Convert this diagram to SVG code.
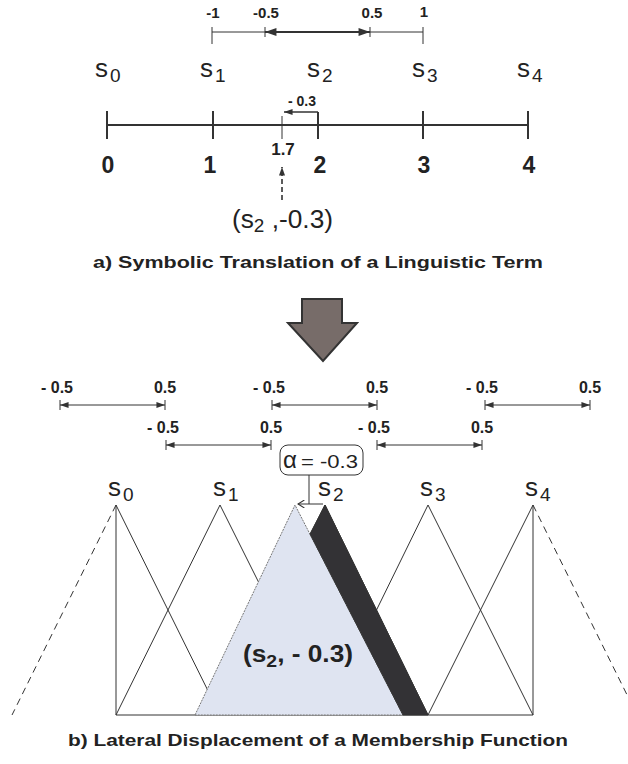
<svg xmlns="http://www.w3.org/2000/svg" width="628" height="764" viewBox="0 0 628 764">
<style>
text{font-family:"Liberation Sans",Arial,sans-serif;fill:#222}
.b{font-weight:bold}
.ln{stroke:#333;stroke-width:1;fill:none}
.ax{stroke:#333;stroke-width:2;fill:none}
.sm{font-size:15px;font-weight:bold}
.rl{font-size:16px;font-weight:bold}
.s{font-size:26px}
.sub{font-size:19px}
.num{font-size:23px;font-weight:bold}
</style>
<defs>
<marker id="ah" viewBox="0 0 10 7" refX="10" refY="3.5" markerWidth="11" markerHeight="6" markerUnits="userSpaceOnUse" orient="auto-start-reverse"><path d="M0,0 L10,3.5 L0,7 z" fill="#333"/></marker>
<marker id="ahb" viewBox="0 0 10 7" refX="10" refY="3.5" markerWidth="13" markerHeight="8" markerUnits="userSpaceOnUse" orient="auto-start-reverse"><path d="M0,0 L10,3.5 L0,7 z" fill="#333"/></marker>
<marker id="aho" viewBox="0 0 10 10" refX="9" refY="5" markerWidth="8" markerHeight="8" markerUnits="userSpaceOnUse" orient="auto"><path d="M1,0 L9,5 L1,10" fill="none" stroke="#333" stroke-width="1.3"/></marker>
</defs>

<!-- Part a -->
<g id="top-bracket">
<path class="ln" stroke="#555" d="M212,32 H265 M370,32 H423 M212,27 V44 M423,27 V44 M265,27 V37 M370,27 V37"/>
<line x1="265" y1="32" x2="370" y2="32" stroke="#333" stroke-width="2.2" marker-start="url(#ahb)" marker-end="url(#ahb)"/>
<text class="sm" x="213" y="18" text-anchor="middle">-1</text>
<text class="sm" x="266" y="18" text-anchor="middle">-0.5</text>
<text class="sm" x="372" y="18" text-anchor="middle">0.5</text>
<text class="sm" x="424" y="17" text-anchor="middle">1</text>
</g>

<g id="top-labels">
<text class="s" x="95" y="77">s<tspan class="sub" dx="2" dy="5">0</tspan></text>
<text class="s" x="200" y="77">s<tspan class="sub" dx="2" dy="5">1</tspan></text>
<text class="s" x="307" y="77">s<tspan class="sub" dx="2" dy="5">2</tspan></text>
<text class="s" x="412" y="77">s<tspan class="sub" dx="2" dy="5">3</tspan></text>
<text class="s" x="517" y="77">s<tspan class="sub" dx="2" dy="5">4</tspan></text>
</g>

<g id="axis">
<path class="ax" d="M107,125 H528 M107,111 V139 M213,111 V139 M423,111 V139 M528,111 V139 M318,112 V139"/>
<path class="ln" stroke-width="1.6" d="M282,116 V139"/>
<line x1="318" y1="112" x2="284" y2="112" stroke="#333" stroke-width="1.6" marker-end="url(#ah)"/>
<text class="b" x="302" y="106" text-anchor="middle" style="font-size:14px">- 0.3</text>
<text class="num" x="108" y="173" text-anchor="middle">0</text>
<text class="num" x="210" y="173" text-anchor="middle">1</text>
<text class="num" x="320" y="173" text-anchor="middle">2</text>
<text class="num" x="424" y="173" text-anchor="middle">3</text>
<text class="num" x="529" y="173" text-anchor="middle">4</text>
<text class="b" x="283" y="155" text-anchor="middle" style="font-size:17px">1.7</text>
<line x1="282" y1="200" x2="282" y2="167" stroke="#333" stroke-width="1.6" stroke-dasharray="5,3" marker-end="url(#ah)"/>
<text x="232" y="228" style="font-size:25px" textLength="101" lengthAdjust="spacingAndGlyphs">(s<tspan style="font-size:18px" dy="4">2</tspan><tspan dy="-4"> ,-0.3)</tspan></text>
</g>

<text class="b" x="318" y="268" text-anchor="middle" style="font-size:17px" textLength="450" lengthAdjust="spacingAndGlyphs">a) Symbolic Translation of a Linguistic Term</text>

<g id="big-arrow">
<path d="M302,299 H342 V323 H357 L323,361 L288,323 H302 Z" fill="#776c69" stroke="#333" stroke-width="2" stroke-linejoin="miter"/>
</g>

<!-- Part b ranges -->
<g id="ranges">
<g class="ln">
<path d="M60,400 V410 M165,400 V410 M272,400 V410 M377,400 V410 M485,400 V410 M590,400 V410 M166,440 V450 M271,440 V450 M377,440 V450 M482,440 V450"/>
</g>
<line x1="60" y1="405" x2="165" y2="405" class="ln" marker-start="url(#ah)" marker-end="url(#ah)"/>
<line x1="272" y1="405" x2="377" y2="405" class="ln" marker-start="url(#ah)" marker-end="url(#ah)"/>
<line x1="485" y1="405" x2="590" y2="405" class="ln" marker-start="url(#ah)" marker-end="url(#ah)"/>
<line x1="166" y1="445" x2="271" y2="445" class="ln" marker-start="url(#ah)" marker-end="url(#ah)"/>
<line x1="377" y1="445" x2="482" y2="445" class="ln" marker-start="url(#ah)" marker-end="url(#ah)"/>
<text class="rl" x="57" y="393" text-anchor="middle">- 0.5</text>
<text class="rl" x="165" y="393" text-anchor="middle">0.5</text>
<text class="rl" x="269" y="393" text-anchor="middle">- 0.5</text>
<text class="rl" x="377" y="393" text-anchor="middle">0.5</text>
<text class="rl" x="482" y="393" text-anchor="middle">- 0.5</text>
<text class="rl" x="590" y="393" text-anchor="middle">0.5</text>
<text class="rl" x="163" y="433" text-anchor="middle">- 0.5</text>
<text class="rl" x="271" y="433" text-anchor="middle">0.5</text>
<text class="rl" x="374" y="433" text-anchor="middle">- 0.5</text>
<text class="rl" x="482" y="433" text-anchor="middle">0.5</text>
</g>

<g id="mf">
<path class="ln" d="M116,715 H533"/>
<path class="ln" stroke-dasharray="7,5" d="M116,505 L12,715 M533,505 L637,715"/>
<path class="ln" d="M116,715 V505 L220,715"/>
<path class="ln" d="M116,715 L220,505 L325,715"/>
<path class="ln" d="M220,715 L325,505 L428,715"/>
<path class="ln" d="M325,715 L428,505 L533,715"/>
<path class="ln" d="M428,715 L533,505 V715"/>
</g>

<g id="shifted">
<path d="M195,715 L295,505 L403,715 Z" fill="#dfe4f1" stroke="#777" stroke-width="1" stroke-dasharray="2,1"/>
<path d="M325,505 L428,715 L403,715 L310,534 Z" fill="#333235" stroke="#333" stroke-width="1"/>
<text class="b" x="243" y="662" style="font-size:23px" textLength="110" lengthAdjust="spacingAndGlyphs">(s<tspan style="font-size:17px" dy="5">2</tspan><tspan dy="-5">, - 0.3)</tspan></text>
</g>

<g id="alpha">
<rect x="280" y="445" width="83" height="30" rx="8" fill="#fff" stroke="#333" stroke-width="1"/>
<text x="283" y="468" style="font-size:24px">α</text>
<text x="301" y="468" style="font-size:18px" textLength="57" lengthAdjust="spacingAndGlyphs">= -0.3</text>
<path class="ln" d="M309,475 V504"/>
<line x1="323" y1="504" x2="298" y2="504" class="ln" marker-end="url(#aho)"/>
</g>

<g id="mf-labels">
<text class="s" x="108" y="496">s<tspan class="sub" dx="2" dy="5">0</tspan></text>
<text class="s" x="213" y="496">s<tspan class="sub" dx="2" dy="5">1</tspan></text>
<text class="s" x="318" y="496">s<tspan class="sub" dx="2" dy="5">2</tspan></text>
<text class="s" x="420" y="496">s<tspan class="sub" dx="2" dy="5">3</tspan></text>
<text class="s" x="525" y="496">s<tspan class="sub" dx="2" dy="5">4</tspan></text>
</g>

<text class="b" x="318" y="746" text-anchor="middle" style="font-size:17px" textLength="500" lengthAdjust="spacingAndGlyphs">b) Lateral Displacement of a Membership Function</text>
</svg>
